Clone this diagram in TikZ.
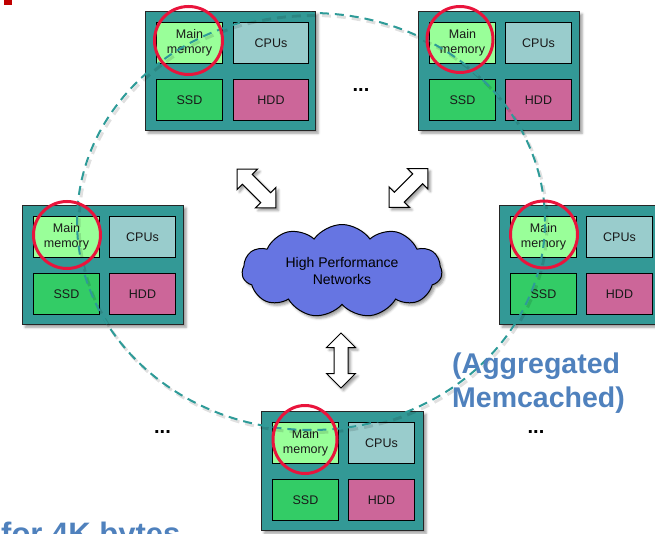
\documentclass[tikz,border=0pt]{standalone}
\usepackage{fontspec}
\setmainfont{Liberation Sans}
\usetikzlibrary{shapes.geometric,shapes.symbols,shapes.arrows,shadows.blur}

\definecolor{boxteal}{RGB}{51,153,150}
\definecolor{memgreen}{RGB}{153,255,153}
\definecolor{cpucyan}{RGB}{153,204,204}
\definecolor{ssdgreen}{RGB}{51,204,102}
\definecolor{hddpink}{RGB}{204,102,153}
\definecolor{netblue}{RGB}{102,117,226}
\definecolor{ringred}{RGB}{233,20,60}
\definecolor{ringteal}{RGB}{46,155,152}
\definecolor{notesblue}{RGB}{79,129,189}
\definecolor{markred}{RGB}{192,0,0}

\tikzset{
  softshadow/.style={blur shadow={shadow xshift=2.5pt,shadow yshift=-2.5pt,
      shadow blur radius=2.5pt,shadow opacity=40}},
  outerbox/.style={draw=black!85,line width=1.3pt,fill=boxteal,
      minimum height=119pt,inner sep=0pt,anchor=north west,softshadow},
  part/.style={draw=black,line width=1pt,minimum height=41pt,inner sep=0pt,
      anchor=north west,align=center,text=black!90,
      font=\fontsize{12.5}{14.5}\selectfont},
  memring/.style={draw=ringred,line width=3pt,inner sep=0pt},
  blockarrow/.style={double arrow,draw=black,line width=1pt,fill=white,
      minimum height=55pt,minimum width=28pt,double arrow head extend=7.5pt,
      inner xsep=0pt,inner ysep=6.5pt,softshadow},
  notes/.style={text=notesblue,font=\fontsize{28.5}{34}\selectfont\bfseries},
  dots/.style={font=\fontsize{20}{20}\selectfont\bfseries,inner sep=0pt},
}

% one server: #1 name, #2/#3 top-left corner, #4 box width,
% #5 width of the CPU cell, #6 gap between the two columns
\newcommand\serverbox[6]{%
  \node[outerbox,minimum width=#4pt] (#1-box) at (#2,#3) {};
  \node[part,fill=memgreen,minimum width=66pt] (#1-mem)
    at ([xshift=11pt,yshift=-11pt]#1-box.north west) {Main\\memory};
  \node[part,fill=cpucyan,minimum width=#5pt] (#1-cpu)
    at ([xshift=#6pt]#1-mem.north east) {CPUs};
  \node[part,fill=ssdgreen,minimum width=66pt] (#1-ssd)
    at ([yshift=-15pt]#1-mem.south west) {SSD};
  \node[part,fill=hddpink,minimum width=#5pt] (#1-hdd)
    at ([xshift=#6pt]#1-ssd.north east) {HDD};
}

\begin{document}
\begin{tikzpicture}[x=1pt,y=-1pt]
\useasboundingbox (0,0) rectangle (655,534);
\clip (0,0) rectangle (655,534);

% servers around the network
\serverbox{tl}{145}{11}{170}{75}{10}
\serverbox{tr}{418}{11}{161}{66}{9}
\serverbox{lf}{22}{205}{161}{66}{9}
\serverbox{rt}{499}{205}{161}{66}{9}
\serverbox{bt}{261}{411}{162}{66}{9}

% shared memory pool
\draw[black,opacity=0.12,line width=3pt,dash pattern=on 9pt off 6pt]
  (313,224) ellipse [x radius=234pt,y radius=208.5pt];
\draw[ringteal,line width=2pt,dash pattern=on 9pt off 6pt]
  (311,221.5) ellipse [x radius=234pt,y radius=208.5pt];

% memory highlights
\node[memring,circle,minimum size=68pt] (tl-ring) at (188.5,40.5) {};
\node[memring,circle,minimum size=66pt] (tr-ring) at (460,39.5) {};
\node[memring,circle,minimum size=67pt] (lf-ring) at (67,235) {};
\node[memring,circle,minimum size=67pt] (rt-ring) at (544,234.5) {};
\node[memring,ellipse,minimum width=64pt,minimum height=68pt] (bt-ring) at (305,439.5) {};

% interconnect
\node[cloud,cloud puffs=11,cloud puff arc=110,aspect=2.2,draw=black,
  line width=1pt,fill=netblue,minimum width=200pt,minimum height=92pt,
  inner sep=0pt,align=center,softshadow,
  font=\fontsize{14}{17}\selectfont] (net) at (342,271)
  {High Performance\\Networks};

\node[blockarrow,rotate=-45] (arr-tl) at (256.5,188.5) {};
\node[blockarrow,rotate=45] (arr-tr) at (408.5,188) {};
\node[blockarrow,rotate=90] (arr-bt) at (341,360.5) {};

% further servers
\node[dots,anchor=base] (dots-top) at (361,91.5) {...};
\node[dots,anchor=base] (dots-left) at (162.5,433) {...};
\node[dots,anchor=base] (dots-right) at (536,433) {...};

% annotations
\node[notes,anchor=base west,inner sep=0pt] (aggr1) at (452,373) {(Aggregated};
\node[notes,anchor=base west,inner sep=0pt] (aggr2) at (452,407) {Memcached)};
\node[notes,anchor=base west,inner sep=0pt,font=\fontsize{31}{34}\selectfont\bfseries]
  (bytes) at (1,544) {for 4K bytes};
\fill[markred] (4,0) rectangle (12,5);
\end{tikzpicture}
\end{document}
